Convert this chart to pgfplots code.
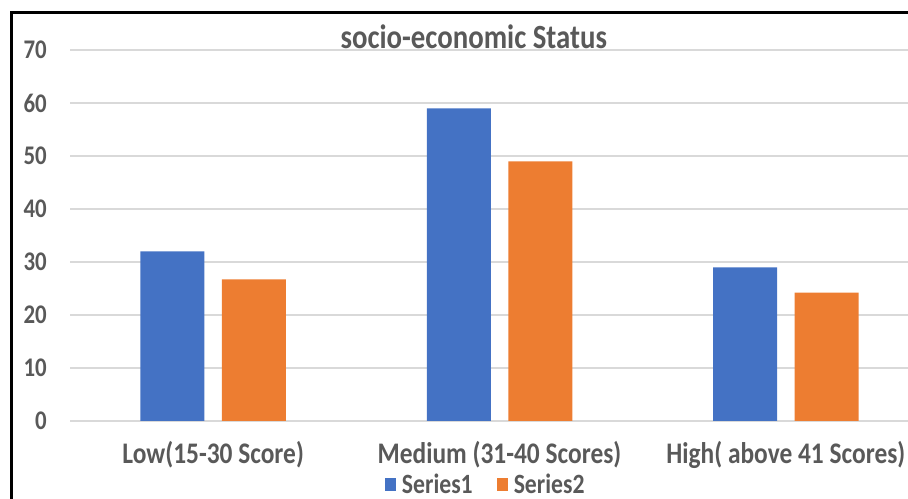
\documentclass[border=0pt]{standalone}
\usepackage{pgfplots}
\pgfplotsset{compat=1.18}
\usepackage{fontspec}
\setmainfont{Carlito}[FakeStretch=0.85]
\definecolor{s1}{HTML}{4472C4}
\definecolor{s2}{HTML}{ED7D31}
\definecolor{txt}{HTML}{595959}
\definecolor{grd}{HTML}{D9D9D9}
\begin{document}
\begin{tikzpicture}[x=1bp,y=1bp]
\useasboundingbox (0,0) rectangle (908,499);
\begin{axis}[
  at={(70bp,78bp)}, anchor=south west,
  scale only axis, width=859bp, height=371bp,
  xmin=-0.5, xmax=2.5, ymin=0, ymax=70,
  ytick={0,10,...,70},
  xtick={0,1,2},
  xticklabels={Low(15-30 Score), Medium (31-40 Scores), High( above 41 Scores)},
  axis line style={draw=none},
  major tick length=0pt,
  ymajorgrids, grid style={grd, line width=1.5bp},
  /pgf/number format/assume math mode=true,
  yticklabel style={font=\fontsize{27}{29}\selectfont\bfseries, text=txt, anchor=east, inner sep=0pt, xshift=-23bp},
  xticklabel style={font=\fontsize{30}{32}\selectfont\bfseries, text=txt, anchor=base, inner sep=0pt, yshift=-43bp},
  title={socio-economic Status},
  title style={font=\fontsize{34}{36}\selectfont\bfseries, text=txt, at={(axis description cs:0.470,1.0108)}, anchor=base, inner sep=0pt, yshift=-8bp},
  legend image code/.code={\fill[#1] (0bp,-6.5bp) rectangle (11bp,6.5bp); \path (15bp,0bp);},
  legend style={draw=none, fill=none, at={(axis description cs:0.484,-0.17)}, anchor=center,
    legend columns=2, font=\fontsize{28}{30}\selectfont\bfseries, text=txt,
    /tikz/every even column/.append style={column sep=22bp}},
]
\addplot[ybar, bar width=64bp, bar shift=-40.75bp, fill=s1, draw=none] coordinates {(0,32) (1,59) (2,29)};
\addlegendentry{Series1}
\addplot[ybar, bar width=64bp, bar shift=40.75bp, fill=s2, draw=none] coordinates {(0,26.7) (1,49) (2,24.2)};
\addlegendentry{Series2}
\end{axis}
\draw[line width=3bp, line join=miter] (11,0) -- (11,486.3) -- (908,486.3);
\end{tikzpicture}
\end{document}
